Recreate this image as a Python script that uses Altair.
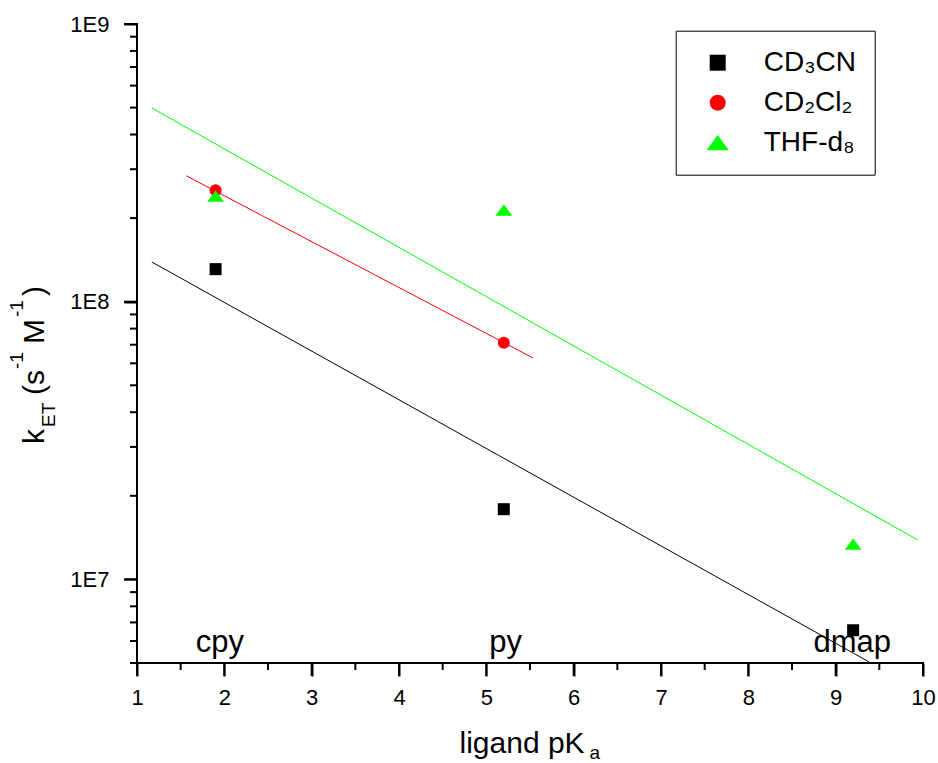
import altair as alt
import pandas as pd

FONT = "Liberation Sans"

# ---------------- data ----------------
ligand_names = ["cpy", "py", "dmap"]
ligand_pka = [1.9, 5.2, 9.2]
label_x = [1.95, 5.22, 9.19]
label_k = [5.46e6, 5.46e6, 5.46e6]

solvents = ["CD₃CN", "CD₂Cl₂", "THF-d₈"]
solvent_colors = ["#000000", "#ff0000", "#00ff00"]
k_cd3cn = [1.31e8, 1.79e7, 6.56e6]
k_cd2cl2 = [2.52e8, 7.12e7, None]
k_thf = [2.40e8, 2.14e8, 1.34e7]

fit_x_cd3cn = [1.17, 9.38]
fit_k_cd3cn = [1.39e8, 5.05e6]
fit_x_cd2cl2 = [1.565, 5.536]
fit_k_cd2cl2 = [2.84e8, 6.27e7]
fit_x_thf = [1.172, 9.935]
fit_k_thf = [4.98e8, 1.39e7]

x_major = [1, 2, 3, 4, 5, 6, 7, 8, 9, 10]
x_minor = [1.5, 2.5, 3.5, 4.5, 5.5, 6.5, 7.5, 8.5, 9.5]
y_major = [1e7, 1e8, 1e9]
y_major_labels = ["1E7", "1E8", "1E9"]
y_minor = [5e6, 6e6, 7e6, 8e6, 9e6,
           2e7, 3e7, 4e7, 5e7, 6e7, 7e7, 8e7, 9e7,
           2e8, 3e8, 4e8, 5e8, 6e8, 7e8, 8e8, 9e8]

W, H = 786, 639

# ---------------- tables ----------------
rows = []
for solv, ks in zip(solvents, [k_cd3cn, k_cd2cl2, k_thf]):
    for pka, k in zip(ligand_pka, ks):
        if k is not None:
            rows.append({"solvent": solv, "pKa": pka, "k": k})
points_df = pd.DataFrame(rows)

fit_rows = []
for solv, col, xs, ks in zip(solvents, solvent_colors,
                             [fit_x_cd3cn, fit_x_cd2cl2, fit_x_thf],
                             [fit_k_cd3cn, fit_k_cd2cl2, fit_k_thf]):
    for i, (xv, kv) in enumerate(zip(xs, ks)):
        fit_rows.append({"fit": solv, "col": col, "pKa": xv, "k": kv, "o": i})
fit_df = pd.DataFrame(fit_rows)

labels_df = pd.DataFrame({"name": ligand_names, "pKa": label_x, "k": label_k})

# ---------------- scales / axes ----------------
xscale = alt.Scale(domain=[1, 10], nice=False, zero=False)
yscale = alt.Scale(type="log", domain=[5e6, 1e9], nice=False)

ylabel_expr = " : ".join(
    f"datum.value == {int(v)} ? '{t}'" for v, t in zip(y_major, y_major_labels)
) + " : ''"

x_axis = alt.Axis(
    values=x_major, title=None, orient="bottom", format="d",
    ticks=True, tickSize=13, tickWidth=2, tickColor="black",
    domain=False,
    labelFont=FONT, labelFontSize=22, labelColor="black",
    labelPadding=11, labelFlush=False, labelOverlap=False, grid=False,
)
y_axis = alt.Axis(
    values=y_major, title=None, orient="left", labelExpr=ylabel_expr,
    ticks=True, tickSize=13, tickWidth=2, tickColor="black",
    domain=False,
    labelFont=FONT, labelFontSize=22, labelColor="black",
    labelPadding=15, labelFlush=False, labelOverlap=False, grid=False,
)

tri = "M-1.4,0.95L1.4,0.95L0,-0.95Z"
legend = alt.Legend(
    title=None, orient="none", legendX=538.7, legendY=6.7,
    strokeColor="black", fillColor="white", padding=18,
    symbolSize=256, symbolOffset=10, labelOffset=32,
    labelFontSize=28, labelFont=FONT, labelColor="black",
    labelExpr="datum.label + '\u00a0'",
    rowPadding=12, symbolStrokeWidth=0, labelLimit=300,
)

lines = alt.Chart(fit_df).mark_line(strokeWidth=1, clip=True).encode(
    x=alt.X("pKa:Q", scale=xscale, axis=x_axis),
    y=alt.Y("k:Q", scale=yscale, axis=y_axis),
    detail="fit:N",
    order="o:Q",
    color=alt.Color("col:N", scale=None),
)

pts = alt.Chart(points_df).mark_point(filled=True, opacity=1, size=144, strokeWidth=0).encode(
    x=alt.X("pKa:Q", scale=xscale),
    y=alt.Y("k:Q", scale=yscale),
    color=alt.Color("solvent:N", scale=alt.Scale(domain=solvents, range=solvent_colors), legend=legend),
    shape=alt.Shape("solvent:N", scale=alt.Scale(domain=solvents, range=["square", "circle", tri]), legend=legend),
)

names = alt.Chart(labels_df).mark_text(
    font=FONT, fontSize=31, align="center", baseline="alphabetic", color="black"
).encode(
    x=alt.X("pKa:Q", scale=xscale),
    y=alt.Y("k:Q", scale=yscale),
    text="name:N",
)


# ---------------- axis lines and tick marks (filled ticks through the scales) ----------------
def xticks(vals, length):
    return alt.Chart(pd.DataFrame({"v": vals})).mark_tick(
        color="black", filled=True, opacity=1, orient="vertical", thickness=2, size=length
    ).encode(x=alt.X("v:Q", scale=xscale), y=alt.value(H + length / 2))


def yticks(vals, length):
    return alt.Chart(pd.DataFrame({"v": vals})).mark_tick(
        color="black", filled=True, opacity=1, orient="horizontal", thickness=2, size=length
    ).encode(y=alt.Y("v:Q", scale=yscale), x=alt.value(-length / 2))


frame = [
    xticks(x_major, 13), xticks(x_minor, 7),
    yticks(y_major, 13), yticks(y_minor, 7),
    alt.Chart(pd.DataFrame({"v": [0]})).mark_rect(color="black", opacity=1).encode(
        x=alt.value(-1), x2=alt.value(W + 1), y=alt.value(H - 1), y2=alt.value(H + 1)),
    alt.Chart(pd.DataFrame({"v": [0]})).mark_rect(color="black", opacity=1).encode(
        x=alt.value(-1), x2=alt.value(1), y=alt.value(-1), y2=alt.value(H + 1)),
]


def piece(text, x, y, size, angle=0):
    return alt.Chart(pd.DataFrame({"t": [text]})).mark_text(
        font=FONT, fontSize=size, angle=angle, align="left",
        baseline="alphabetic", color="black",
    ).encode(x=alt.value(x), y=alt.value(y), text="t:N")


titles = [
    piece("ligand pK", 322.5, 729, 30),
    piece("a", 452.5, 735, 19),
    piece("k", -93, 420, 30, 270),
    piece("ET", -82, 403, 19, 270),
    piece("(s", -93, 371, 30, 270),
    piece("-1", -114, 345, 19, 270),
    piece("M", -93, 320, 30, 270),
    piece("-1", -114, 293, 19, 270),
    piece(")", -93, 272, 30, 270),
]

chart = alt.layer(lines, *frame, pts, names, *titles).properties(
    width=W, height=H,
    autosize=alt.AutoSizeParams(type="none"),
    padding={"left": 137, "top": 24, "right": 15, "bottom": 100},
    background="white",
).configure_view(stroke=None)

chart.save("out.html", embed_options={"renderer": "svg", "actions": False})
